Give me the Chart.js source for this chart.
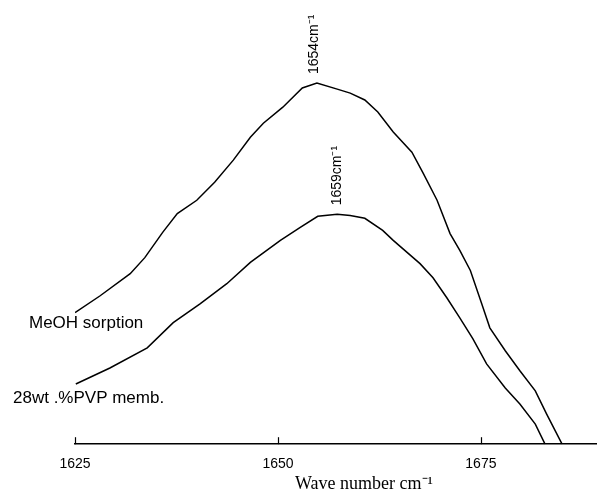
<!DOCTYPE html>
<html>
<head>
<meta charset="utf-8">
<script src="https://cdn.jsdelivr.net/npm/chart.js@4/dist/chart.umd.min.js"></script>
<style>
  html, body { margin: 0; padding: 0; background: #fff; }
  #wrap { width: 597px; height: 495px; }
</style>
</head>
<body>
<div id="wrap"><canvas id="irChart" width="597" height="495"></canvas></div>
<script>
// wavenumber (cm-1) and absorbance (arbitrary units)
const meohX = [1625.0, 1628.1, 1631.8, 1633.6, 1635.8, 1637.6, 1640.0, 1642.2, 1644.5, 1646.6,
  1648.2, 1650.6, 1653.0, 1654.8, 1657.3, 1658.9, 1660.7, 1662.3, 1664.2, 1666.5,
  1667.9, 1669.6, 1671.2, 1672.4, 1673.7, 1675.1, 1676.1, 1678.0, 1679.8, 1681.7,
  1683.1, 1685.0];
const meohY = [0.328, 0.370, 0.425, 0.465, 0.528, 0.575, 0.608, 0.653, 0.708, 0.765,
  0.800, 0.840, 0.888, 0.900, 0.885, 0.875, 0.858, 0.828, 0.778, 0.728,
  0.675, 0.608, 0.525, 0.483, 0.433, 0.350, 0.290, 0.233, 0.183, 0.133,
  0.075, 0.000];

const pvpX = [1625.1, 1629.3, 1633.9, 1637.1, 1640.4, 1643.7, 1646.6, 1650.3, 1652.7, 1654.9,
  1657.3, 1658.9, 1660.7, 1662.9, 1664.2, 1667.5, 1669.1, 1670.8, 1672.4, 1674.0,
  1675.7, 1678.0, 1679.8, 1681.7, 1682.9];
const pvpY = [0.150, 0.190, 0.240, 0.303, 0.350, 0.400, 0.453, 0.508, 0.540, 0.568,
  0.573, 0.570, 0.563, 0.533, 0.508, 0.450, 0.415, 0.365, 0.315, 0.263,
  0.200, 0.140, 0.100, 0.050, 0.000];

const tickValues = [1625, 1650, 1675];
const seriesNames = ["MeOH sorption", "28wt .%PVP memb."];
const peakPositions = [1654.5, 1657.3];
const peakLabels = ["1654cm\u207B\u00B9", "1659cm\u207B\u00B9"];
const axisTitle = "Wave number cm\u207B\u00B9";

const toPoints = (xs, ys) => xs.map((x, i) => ({ x: x, y: ys[i] }));

// draws upward tick marks, series names, peak labels and the axis title
const annotations = {
  id: "annotations",
  afterDraw(chart) {
    const ctx = chart.ctx;
    const xs = chart.scales.x;
    const ys = chart.scales.y;
    const bottom = chart.chartArea.bottom;
    ctx.save();
    ctx.strokeStyle = "#000";
    ctx.lineWidth = 1.2;
    tickValues.forEach(v => {
      const px = Math.round(xs.getPixelForValue(v)) + 0.5;
      ctx.beginPath();
      ctx.moveTo(px, bottom);
      ctx.lineTo(px, bottom - 7);
      ctx.stroke();
    });

    ctx.fillStyle = "#000";
    ctx.font = "17px 'Liberation Sans', Arial, sans-serif";
    ctx.textBaseline = "middle";
    ctx.textAlign = "left";
    ctx.fillText(seriesNames[0], 29, ys.getPixelForValue(meohY[0]) + 11);
    ctx.fillText(seriesNames[1], 13, ys.getPixelForValue(pvpY[0]) + 14);

    ctx.font = "14px 'Liberation Sans', Arial, sans-serif";
    const peaks = [Math.max(...meohY), Math.max(...pvpY)];
    peakPositions.forEach((p, i) => {
      const px = xs.getPixelForValue(p);
      const py = ys.getPixelForValue(peaks[i]) - 9;
      ctx.save();
      ctx.translate(px, py);
      ctx.rotate(-Math.PI / 2);
      ctx.textAlign = "left";
      ctx.fillText(peakLabels[i], 0, 0);
      ctx.restore();
    });

    ctx.font = "18px 'Liberation Serif', 'Times New Roman', serif";
    ctx.textAlign = "center";
    ctx.fillText(axisTitle, xs.getPixelForValue(1660.6), 484);
    ctx.restore();
  }
};

const data = {
  datasets: [
    {
      label: seriesNames[0],
      data: toPoints(meohX, meohY),
      borderColor: "#000",
      borderWidth: 1.5,
      pointRadius: 0,
      tension: 0,
      fill: false
    },
    {
      label: seriesNames[1],
      data: toPoints(pvpX, pvpY),
      borderColor: "#000",
      borderWidth: 1.5,
      pointRadius: 0,
      tension: 0,
      fill: false
    }
  ]
};

const config = {
  type: "line",
  data: data,
  plugins: [annotations],
  options: {
    responsive: false,
    animation: false,
    layout: { padding: { left: 75, right: 0, top: 43, bottom: 10 } },
    plugins: {
      legend: { display: false },
      tooltip: { enabled: false }
    },
    scales: {
      x: {
        type: "linear",
        min: 1625,
        max: 1689.3,
        afterBuildTicks: (scale) => {
          scale.ticks = tickValues.map(v => ({ value: v }));
        },
        grid: { display: false, drawTicks: false },
        border: { display: true, color: "#000", width: 1.5 },
        ticks: {
          color: "#000",
          padding: 12,
          maxRotation: 0,
          callback: (value) => String(value),
          font: { family: "'Liberation Sans', Arial, sans-serif", size: 14 }
        }
      },
      y: {
        display: false,
        min: 0,
        max: 1
      }
    }
  }
};

new Chart(document.getElementById("irChart").getContext("2d"), config);
</script>
</body>
</html>
